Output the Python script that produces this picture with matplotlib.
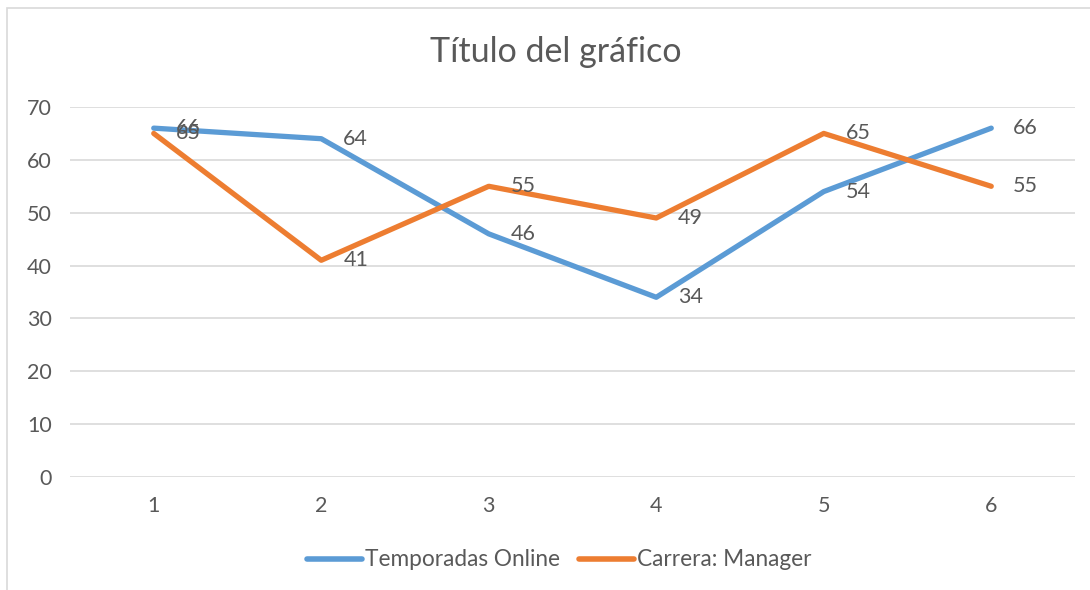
import matplotlib
matplotlib.use("Agg")
import matplotlib.pyplot as plt
from matplotlib.patches import Rectangle

categories = [1, 2, 3, 4, 5, 6]
temporadas_online = [66, 64, 46, 34, 54, 66]
carrera_manager = [65, 41, 55, 49, 65, 55]
series_names = ["Temporadas Online", "Carrera: Manager"]
yticks = [0, 10, 20, 30, 40, 50, 60, 70]
title = "Título del gráfico"

plt.rcParams['font.family'] = ['Lato', 'DejaVu Sans']
TXT = '#595959'
BLUE = '#5B9BD5'
ORANGE = '#ED7D31'
GRID = '#D9D9D9'
FS = 15.5

W, H = 1090, 590
fig = plt.figure(figsize=(W / 100, H / 100), dpi=100)
fig.patch.set_facecolor('white')

# chart area border
fig.add_artist(Rectangle((7 / W, -0.05), 1.2, (H - 8) / H + 0.05,
                         transform=fig.transFigure, fill=False,
                         edgecolor=GRID, linewidth=1.2))

left, right = 70 / W, 1075 / W
bottom, top = 1 - 477 / H, 1 - 107 / H
ax = fig.add_axes([left, bottom, right - left, top - bottom])
ax.set_xlim(0.5, 6.5)
ax.set_ylim(0, 70)
ax.set_yticks(yticks)
ax.set_xticks(categories)
ax.set_xticklabels([str(c) for c in categories])
for s in ax.spines.values():
    s.set_visible(False)
ax.grid(axis='y', color=GRID, linewidth=1.2)
ax.set_axisbelow(True)
ax.tick_params(length=0, labelsize=FS, labelcolor=TXT)
ax.tick_params(axis='y', pad=13)
ax.tick_params(axis='x', pad=14)

for vals, color, name in [(temporadas_online, BLUE, series_names[0]),
                          (carrera_manager, ORANGE, series_names[1])]:
    ax.plot(categories, vals, color=color, linewidth=3.8, label=name,
            solid_capstyle='round', solid_joinstyle='round', clip_on=False)

for vals in [temporadas_online, carrera_manager]:
    for x, v in zip(categories, vals):
        ax.annotate(str(v), (x, v), xytext=(22, 0), textcoords='offset pixels',
                    ha='left', va='center', fontsize=FS, color=TXT)

fig.text(556 / W, 1 - 52 / H, title, ha='center', va='center',
         fontsize=24.5, color=TXT)

leg = fig.legend(loc='center', bbox_to_anchor=(559 / W, 1 - 560 / H),
                 ncol=2, frameon=False, fontsize=16.3, handlelength=2.45,
                 handletextpad=0.1, columnspacing=0.85)
for line in leg.get_lines():
    line.set_linewidth(4)
    line.set_solid_capstyle('round')
for t in leg.get_texts():
    t.set_color(TXT)

fig.savefig('out.png', dpi=100, facecolor='white')
